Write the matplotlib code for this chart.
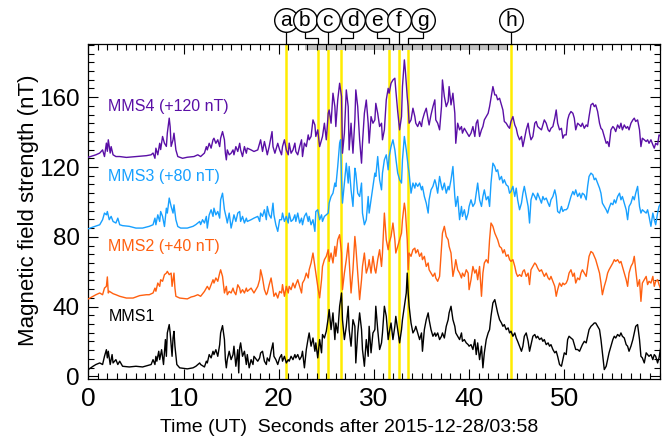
import numpy as np
import matplotlib
matplotlib.use("Agg")
import matplotlib.pyplot as plt
from matplotlib.transforms import blended_transform_factory

# |B| for each spacecraft, (seconds after 03:58 UT, nT)
mms1 = [(0, 3.9), (0.5, 5.8), (0.8, 6.8), (1.2, 7.7), (1.5, 6.8), (1.7, 11.5), (1.9, 15.3), (2.0, 10.6), (2.1, 14.4), (2.3, 6.8),
        (2.5, 12.5), (2.6, 7.7), (2.9, 9.6), (3.1, 6.8), (3.3, 8.7), (3.6, 5.8), (4.3, 5.4), (5.0, 5.8), (5.7, 5.4), (6.2, 6.2),
        (6.6, 6.8), (6.8, 9.6), (7.0, 6.8), (7.1, 11.5), (7.2, 8.7), (7.4, 14.4), (7.5, 9.6), (7.7, 15.3), (7.9, 6.8), (8.1, 21.1),
        (8.2, 11.5), (8.3, 24.9), (8.5, 29.7), (8.6, 24.9), (8.8, 11.5), (8.9, 22.0), (9.0, 25.8), (9.1, 17.3), (9.3, 6.8), (9.6, 4.9),
        (10.4, 4.3), (11.0, 4.9), (11.3, 5.8), (11.7, 7.7), (11.8, 6.8), (12.2, 5.4), (12.4, 8.7), (12.5, 7.7), (12.7, 12.5), (12.9, 10.6),
        (13.1, 14.4), (13.2, 12.5), (13.4, 15.3), (13.6, 11.5), (13.8, 18.2), (13.9, 24.9), (14.1, 29.1), (14.3, 21.1), (14.4, 9.6), (14.5, 4.9),
        (14.6, 9.6), (14.8, 14.4), (15.0, 9.6), (15.2, 12.5), (15.3, 17.3), (15.5, 5.8), (15.7, 15.3), (15.8, 2.0), (15.9, 16.3), (16.0, 19.2),
        (16.2, 11.5), (16.4, 14.4), (16.6, 6.8), (16.7, 12.5), (16.9, 4.9), (17.1, 9.6), (17.3, 6.8), (17.4, 11.5), (17.8, 8.7), (18.0, 10.6),
        (18.1, 13.4), (18.3, 14.4), (18.5, 8.7), (18.7, 6.8), (18.8, 10.6), (19.0, 8.7), (19.2, 14.4), (19.4, 19.2), (19.5, 11.5), (19.7, 9.6),
        (19.9, 6.8), (20.1, 10.6), (20.3, 12.5), (20.4, 8.7), (20.6, 11.5), (20.8, 7.7), (21.0, 9.6), (21.1, 8.7), (21.3, 11.5), (21.5, 9.6),
        (21.7, 12.5), (21.8, 10.6), (22.0, 12.5), (22.2, 9.6), (22.4, 11.5), (22.5, 14.4), (22.7, 4.9), (22.9, 15.4), (23.1, 22.0), (23.2, 24.9),
        (23.4, 17.3), (23.6, 22.0), (23.8, 14.4), (23.9, 19.2), (24.1, 10.6), (24.3, 21.1), (24.5, 13.5), (24.6, 24.0), (24.8, 22.0), (25.0, 25.9),
        (25.2, 33.5), (25.3, 38.3), (25.5, 26.8), (25.7, 36.4), (25.9, 21.1), (26.0, 30.6), (26.2, 24.9), (26.4, 40.2), (26.6, 47.8), (26.7, 32.5),
        (26.9, 21.1), (27.1, 28.7), (27.3, 40.2), (27.4, 26.8), (27.6, 17.3), (27.8, 32.5), (28.0, 28.7), (28.1, 7.7), (28.3, 24.9), (28.5, 36.4),
        (28.7, 26.8), (28.8, 15.4), (29.0, 5.8), (29.2, 21.1), (29.4, 11.5), (29.5, 28.7), (29.7, 13.5), (29.9, 24.9), (30.1, 26.8), (30.2, 40.2),
        (30.4, 26.8), (30.6, 15.4), (30.8, 19.2), (30.9, 24.9), (31.1, 40.2), (31.3, 34.4), (31.5, 21.1), (31.6, 24.9), (31.8, 30.6), (32.0, 21.1),
        (32.2, 28.7), (32.3, 34.4), (32.5, 26.8), (32.7, 19.2), (32.9, 26.8), (33.0, 32.5), (33.2, 40.2), (33.4, 47.8), (33.5, 59.2), (33.6, 47.8),
        (33.7, 40.2), (33.9, 30.6), (34.1, 24.9), (34.3, 26.8), (34.4, 28.7), (34.6, 24.9), (34.8, 21.1), (35.0, 24.9), (35.1, 14.4), (35.3, 26.8),
        (35.5, 32.5), (35.7, 36.4), (35.8, 32.5), (36.0, 26.8), (36.2, 23.0), (36.4, 24.9), (36.5, 23.0), (36.7, 24.9), (36.9, 21.1), (37.1, 23.0),
        (37.2, 24.9), (37.4, 22.0), (37.6, 28.7), (37.8, 32.5), (37.9, 36.4), (38.1, 40.2), (38.3, 32.5), (38.5, 28.7), (38.6, 24.9), (38.8, 23.0),
        (39.0, 21.1), (39.2, 24.9), (39.3, 20.1), (39.5, 21.1), (39.7, 19.2), (39.9, 18.2), (40.0, 17.3), (40.2, 18.2), (40.4, 15.4), (40.6, 21.1),
        (40.75, 12.5), (40.9, 19.2), (41.1, 9.6), (41.3, 17.3), (41.45, 4.9), (41.6, 13.5), (41.8, 21.1), (42.0, 24.9), (42.15, 26.8), (42.3, 34.4),
        (42.5, 42.1), (42.7, 44.0), (42.85, 40.2), (43.0, 36.4), (43.2, 32.5), (43.4, 30.6), (43.55, 28.7), (43.7, 29.7), (43.9, 26.8), (44.1, 27.8),
        (44.25, 24.9), (44.4, 25.9), (44.6, 23.0), (44.8, 24.9), (44.95, 22.0), (45.1, 20.1), (45.3, 17.3), (45.5, 14.4), (45.65, 17.3), (45.8, 23.0),
        (46.0, 24.9), (46.2, 20.1), (46.35, 14.4), (46.5, 18.2), (46.7, 23.0), (46.9, 24.0), (47.05, 22.0), (47.2, 23.0), (47.4, 21.1), (47.6, 22.0),
        (47.75, 20.1), (47.9, 21.1), (48.1, 18.2), (48.3, 19.2), (48.45, 17.3), (48.6, 18.2), (48.8, 15.4), (49.0, 13.5), (49.15, 14.4), (49.3, 11.5),
        (49.5, 6.8), (49.7, 5.8), (49.85, 9.6), (50.0, 13.5), (50.2, 12.5), (50.35, 21.1), (50.5, 23.0), (50.7, 22.0), (50.9, 21.1), (51.05, 18.2),
        (51.2, 15.4), (51.4, 15.4), (51.6, 14.4), (51.75, 16.3), (51.9, 18.2), (52.1, 20.1), (52.3, 19.2), (52.45, 23.0), (52.6, 26.8), (52.8, 28.7),
        (53.0, 29.7), (53.15, 30.6), (53.3, 30.6), (53.5, 28.7), (53.7, 26.8), (53.85, 21.1), (54.0, 13.5), (54.2, 3.9), (54.4, 5.8), (54.55, 9.6),
        (54.7, 13.5), (54.9, 17.3), (55.1, 21.1), (55.25, 23.0), (55.4, 22.0), (55.6, 24.0), (55.8, 23.0), (55.95, 24.9), (56.1, 23.0), (56.3, 22.0),
        (56.5, 18.2), (56.65, 17.3), (56.8, 14.4), (57.0, 17.3), (57.2, 21.1), (57.35, 24.9), (57.5, 28.7), (57.7, 29.7), (57.9, 21.1), (58.05, 11.5),
        (58.2, 10.6), (58.4, 7.7), (58.6, 13.5), (58.75, 12.5), (58.9, 11.5), (59.1, 12.5), (59.3, 9.6), (59.45, 12.5), (59.6, 11.5), (59.8, 7.7),
        (59.95, 10.6), (60.15, 17.3)]

mms2 = [(0, 4.4), (0.5, 5.9), (0.8, 6.8), (1.2, 7.8), (1.5, 6.8), (1.7, 10.6), (1.9, 11.6), (2.0, 17.0), (2.1, 7.8), (2.2, 8.8),
        (2.6, 7.4), (2.9, 6.8), (3.3, 5.9), (4.0, 4.9), (4.7, 4.9), (5.4, 6.3), (6.1, 6.8), (6.4, 6.8), (6.8, 7.8), (7.0, 10.6),
        (7.1, 8.8), (7.3, 13.5), (7.5, 11.6), (7.6, 15.4), (7.8, 14.5), (8.0, 18.3), (8.2, 19.2), (8.3, 20.2), (8.5, 18.3), (8.7, 19.2),
        (8.8, 11.6), (9.0, 19.2), (9.1, 10.6), (9.2, 5.9), (9.6, 4.9), (10.4, 4.4), (10.8, 5.5), (11.1, 5.9), (11.5, 6.8), (11.8, 5.9),
        (12.2, 8.7), (12.5, 11.6), (12.7, 9.7), (12.9, 12.5), (13.1, 15.4), (13.2, 13.5), (13.4, 16.4), (13.6, 14.5), (13.8, 19.2), (13.9, 21.1),
        (14.1, 17.3), (14.3, 7.8), (14.5, 11.6), (14.6, 6.8), (14.8, 8.7), (15.0, 7.8), (15.2, 10.6), (15.3, 8.7), (15.5, 6.8), (15.7, 12.5),
        (15.9, 10.6), (16.0, 7.8), (16.2, 9.7), (16.4, 7.8), (16.6, 10.6), (16.7, 8.7), (17.1, 10.6), (17.4, 7.8), (17.8, 11.6), (18.0, 15.4),
        (18.1, 21.1), (18.3, 16.4), (18.5, 9.7), (18.7, 6.8), (18.8, 7.8), (19.0, 12.5), (19.2, 16.4), (19.4, 9.7), (19.5, 5.9), (19.7, 7.8),
        (19.9, 4.9), (20.1, 8.7), (20.3, 7.8), (20.4, 12.6), (20.6, 5.9), (20.8, 11.6), (21.0, 7.8), (21.1, 11.6), (21.3, 9.7), (21.5, 13.5),
        (21.7, 10.7), (21.8, 12.6), (22.0, 15.4), (22.2, 11.6), (22.4, 7.8), (22.5, 13.5), (22.7, 15.4), (22.9, 19.2), (23.1, 16.4), (23.2, 21.1),
        (23.4, 25.0), (23.6, 30.7), (23.8, 23.0), (23.9, 19.2), (24.1, 11.6), (24.3, 5.0), (24.5, 15.4), (24.6, 23.0), (24.8, 26.9), (25.0, 28.8),
        (25.2, 32.6), (25.3, 25.9), (25.5, 30.7), (25.7, 25.0), (25.9, 34.5), (26.0, 28.8), (26.2, 38.3), (26.4, 41.2), (26.6, 30.7), (26.7, 9.7),
        (26.9, 19.2), (27.1, 26.9), (27.3, 36.4), (27.4, 26.9), (27.6, 7.8), (27.8, 21.1), (28.0, 40.2), (28.1, 34.5), (28.3, 19.2), (28.5, 4.0),
        (28.7, 15.4), (28.8, 23.0), (29.0, 30.7), (29.2, 19.2), (29.4, 23.0), (29.5, 26.9), (29.7, 19.2), (29.9, 28.8), (30.1, 21.1), (30.2, 19.2),
        (30.4, 26.9), (30.6, 32.6), (30.8, 23.0), (30.9, 30.7), (31.1, 53.6), (31.3, 38.3), (31.5, 32.6), (31.6, 36.4), (31.8, 40.2), (32.0, 47.9),
        (32.2, 38.3), (32.3, 30.7), (32.5, 34.5), (32.7, 38.3), (32.9, 42.1), (33.0, 49.8), (33.2, 59.3), (33.3, 55.5), (33.5, 38.3), (33.6, 21.1),
        (33.7, 30.7), (33.9, 28.8), (34.1, 32.6), (34.3, 33.5), (34.4, 30.7), (34.6, 32.6), (34.8, 28.8), (35.0, 30.7), (35.1, 26.9), (35.3, 28.8),
        (35.5, 23.0), (35.7, 25.0), (35.8, 21.1), (36.0, 19.2), (36.2, 17.3), (36.4, 19.2), (36.5, 16.4), (36.7, 14.5), (36.9, 17.3), (37.1, 34.5),
        (37.2, 42.1), (37.4, 46.0), (37.6, 40.2), (37.8, 38.3), (37.9, 34.5), (38.1, 30.7), (38.3, 17.3), (38.5, 23.0), (38.6, 26.9), (38.8, 21.1),
        (39.0, 19.2), (39.2, 16.4), (39.3, 19.2), (39.5, 17.3), (39.7, 21.1), (39.9, 19.2), (40.0, 9.7), (40.2, 15.4), (40.4, 23.0), (40.6, 19.2),
        (40.75, 21.1), (40.9, 15.4), (41.1, 23.0), (41.3, 5.9), (41.45, 19.2), (41.6, 25.0), (41.8, 26.9), (42.0, 25.0), (42.15, 38.3), (42.3, 47.9),
        (42.5, 46.0), (42.7, 42.1), (42.85, 40.2), (43.0, 38.3), (43.2, 34.5), (43.4, 33.5), (43.55, 30.7), (43.7, 32.6), (43.9, 28.8), (44.1, 29.7),
        (44.25, 26.9), (44.4, 25.9), (44.6, 26.9), (44.8, 23.0), (44.95, 19.2), (45.1, 17.3), (45.3, 18.3), (45.5, 17.3), (45.65, 20.2), (45.8, 21.1),
        (46.0, 17.3), (46.2, 19.2), (46.35, 12.6), (46.5, 21.1), (46.7, 23.0), (46.9, 25.0), (47.05, 24.0), (47.2, 22.1), (47.4, 20.2), (47.6, 21.1),
        (47.75, 19.2), (47.9, 17.3), (48.1, 19.2), (48.3, 16.4), (48.45, 15.4), (48.6, 17.3), (48.8, 14.5), (49.0, 11.6), (49.15, 5.9), (49.3, 9.7),
        (49.5, 13.5), (49.7, 11.6), (49.85, 13.5), (50.0, 12.6), (50.2, 13.5), (50.35, 15.4), (50.5, 19.2), (50.7, 21.1), (50.9, 17.3), (51.05, 19.2),
        (51.2, 13.5), (51.4, 16.4), (51.6, 15.4), (51.75, 19.2), (51.9, 21.1), (52.1, 19.2), (52.3, 17.3), (52.45, 23.0), (52.6, 28.8), (52.8, 31.6),
        (53.0, 30.7), (53.15, 28.8), (53.3, 26.9), (53.5, 23.0), (53.7, 19.2), (53.85, 13.5), (54.0, 6.8), (54.2, 11.6), (54.4, 15.4), (54.55, 19.2),
        (54.7, 21.1), (54.9, 23.0), (55.1, 25.0), (55.25, 26.9), (55.4, 25.9), (55.6, 26.9), (55.8, 25.0), (55.95, 25.9), (56.1, 23.0), (56.3, 19.2),
        (56.5, 15.4), (56.65, 11.6), (56.8, 19.2), (57.0, 23.0), (57.2, 25.0), (57.35, 28.8), (57.5, 21.1), (57.7, 11.6), (57.9, 15.4), (58.05, 3.0),
        (58.2, 13.5), (58.4, 15.4), (58.6, 17.3), (58.75, 12.6), (58.9, 14.5), (59.1, 13.5), (59.3, 17.3), (59.45, 11.6), (59.6, 14.5), (59.8, 15.4),
        (59.95, 12.6), (60.15, 9.7)]

mms3 = [(0, 4.6), (0.5, 5.6), (1.2, 6.9), (1.5, 9.8), (1.7, 13.6), (1.9, 12.6), (2.0, 14.5), (2.2, 9.8), (2.4, 11.7), (2.6, 8.8),
        (2.9, 7.9), (3.1, 10.7), (3.3, 6.9), (3.6, 6.4), (4.3, 6.0), (5.0, 5.0), (5.7, 5.0), (6.4, 6.0), (6.8, 6.9), (7.0, 10.7),
        (7.1, 6.9), (7.3, 12.6), (7.5, 8.8), (7.6, 14.5), (7.8, 11.7), (8.0, 5.9), (8.2, 16.4), (8.3, 13.6), (8.5, 22.2), (8.7, 17.4),
        (8.9, 13.6), (9.0, 18.3), (9.2, 9.8), (9.4, 5.9), (9.7, 5.0), (10.4, 5.0), (11.0, 6.0), (11.3, 7.0), (11.7, 8.8), (11.8, 7.0),
        (12.0, 9.8), (12.2, 7.9), (12.4, 11.7), (12.5, 5.0), (12.7, 12.6), (12.9, 15.5), (13.1, 11.7), (13.2, 16.4), (13.4, 12.6), (13.6, 14.5),
        (13.8, 10.7), (13.9, 21.2), (14.1, 25.0), (14.3, 15.5), (14.5, 10.7), (14.6, 7.9), (14.8, 13.6), (15.0, 5.0), (15.2, 9.8), (15.3, 12.6),
        (15.5, 8.8), (15.7, 13.6), (15.9, 14.5), (16.0, 8.8), (16.2, 11.7), (16.4, 7.9), (16.6, 10.7), (16.7, 8.8), (17.1, 9.8), (17.4, 10.7),
        (17.8, 11.7), (18.0, 8.8), (18.1, 13.6), (18.3, 11.7), (18.5, 15.5), (18.7, 9.8), (18.8, 17.4), (19.0, 12.6), (19.2, 10.7), (19.4, 19.3),
        (19.5, 12.6), (19.7, 6.9), (19.9, 3.1), (20.1, 9.8), (20.3, 9.8), (20.4, 13.6), (20.6, 8.8), (20.8, 11.7), (21.0, 7.9), (21.1, 13.6),
        (21.3, 8.8), (21.5, 9.8), (21.7, 12.6), (21.8, 8.8), (22.0, 13.6), (22.2, 7.9), (22.4, 10.7), (22.5, 6.9), (22.7, 11.7), (22.9, 13.6),
        (23.1, 8.8), (23.2, 11.7), (23.4, 6.9), (23.6, 9.8), (23.8, 3.1), (23.9, 14.5), (24.1, 15.5), (24.3, 9.8), (24.5, 12.6), (24.6, 8.8),
        (24.8, 11.7), (25.0, 12.6), (25.2, 13.6), (25.3, 19.3), (25.5, 23.1), (25.7, 25.0), (25.9, 30.8), (26.0, 28.8), (26.2, 40.3), (26.4, 53.7),
        (26.5, 55.6), (26.6, 32.7), (26.7, 19.3), (26.9, 30.8), (27.1, 42.2), (27.3, 30.8), (27.4, 40.3), (27.6, 26.9), (27.8, 17.4), (28.0, 39.3),
        (28.1, 36.5), (28.3, 25.0), (28.5, 23.1), (28.7, 30.8), (28.8, 13.6), (29.0, 6.9), (29.2, 9.8), (29.4, 23.1), (29.5, 13.6), (29.7, 21.2),
        (29.9, 28.9), (30.1, 36.5), (30.2, 34.6), (30.4, 46.0), (30.6, 32.7), (30.8, 26.9), (30.9, 36.5), (31.1, 44.1), (31.3, 47.0), (31.5, 38.4),
        (31.6, 46.0), (31.8, 51.7), (32.0, 55.6), (32.2, 49.8), (32.3, 45.1), (32.5, 36.5), (32.7, 32.7), (32.9, 30.8), (33.0, 44.1), (33.2, 57.5),
        (33.4, 49.8), (33.6, 40.3), (33.7, 36.5), (33.9, 25.0), (34.1, 30.8), (34.3, 27.9), (34.4, 30.8), (34.6, 28.9), (34.8, 30.8), (35.0, 26.9),
        (35.1, 28.9), (35.3, 23.1), (35.5, 19.3), (35.7, 13.6), (35.8, 21.2), (36.0, 26.9), (36.2, 28.9), (36.4, 32.7), (36.5, 30.8), (36.7, 25.0),
        (36.9, 34.6), (37.1, 28.9), (37.2, 26.9), (37.4, 30.8), (37.6, 25.0), (37.8, 28.9), (37.9, 26.9), (38.1, 32.7), (38.3, 40.3), (38.5, 23.1),
        (38.6, 17.4), (38.8, 23.1), (39.0, 9.8), (39.2, 17.4), (39.3, 11.7), (39.5, 15.5), (39.7, 9.8), (39.9, 13.6), (40.0, 17.4), (40.2, 21.2),
        (40.4, 17.4), (40.6, 19.3), (40.75, 25.0), (40.9, 30.8), (41.1, 21.2), (41.3, 17.4), (41.45, 23.1), (41.6, 26.9), (41.8, 21.2), (42.0, 23.1),
        (42.15, 17.4), (42.3, 30.8), (42.5, 42.2), (42.7, 40.3), (42.85, 37.4), (43.0, 38.4), (43.2, 32.7), (43.4, 34.6), (43.55, 30.8), (43.7, 32.7),
        (43.9, 29.8), (44.1, 28.9), (44.25, 25.0), (44.4, 26.0), (44.6, 28.9), (44.8, 23.1), (44.95, 27.9), (45.1, 21.2), (45.3, 15.5), (45.5, 19.3),
        (45.65, 25.0), (45.8, 28.9), (46.0, 23.1), (46.2, 17.4), (46.35, 7.9), (46.5, 21.2), (46.7, 25.0), (46.9, 23.1), (47.05, 21.2), (47.2, 25.0),
        (47.4, 22.2), (47.6, 19.3), (47.75, 23.1), (47.9, 21.2), (48.1, 22.2), (48.3, 19.3), (48.45, 17.4), (48.6, 21.2), (48.8, 23.1), (49.0, 26.9),
        (49.15, 23.1), (49.3, 14.5), (49.5, 13.6), (49.7, 17.4), (49.85, 14.5), (50.0, 15.5), (50.2, 15.5), (50.35, 16.4), (50.5, 19.3), (50.7, 23.1),
        (50.9, 26.0), (51.05, 24.1), (51.2, 26.9), (51.4, 23.1), (51.6, 25.0), (51.75, 22.2), (51.9, 25.0), (52.1, 24.1), (52.3, 21.2), (52.45, 28.9),
        (52.6, 34.6), (52.8, 36.5), (53.0, 35.5), (53.15, 32.7), (53.3, 33.6), (53.5, 30.8), (53.7, 27.9), (53.85, 25.0), (54.0, 19.3), (54.2, 17.4),
        (54.4, 15.5), (54.55, 13.6), (54.7, 16.4), (54.9, 19.3), (55.1, 18.4), (55.25, 21.2), (55.4, 19.3), (55.6, 23.1), (55.8, 25.0), (55.95, 21.2),
        (56.1, 23.1), (56.3, 19.3), (56.5, 15.5), (56.65, 9.8), (56.8, 17.4), (57.0, 19.3), (57.2, 23.1), (57.35, 21.2), (57.5, 25.0), (57.7, 28.9),
        (57.9, 17.4), (58.05, 13.6), (58.2, 15.5), (58.4, 14.5), (58.6, 13.6), (58.75, 15.5), (58.9, 11.7), (59.1, 6.0), (59.3, 13.6), (59.45, 9.8),
        (59.6, 6.9), (59.8, 13.6), (59.95, 17.4), (60.15, 19.3)]

mms4 = [(0, 5.6), (0.8, 7.0), (1.2, 8.0), (1.5, 9.8), (1.7, 6.0), (1.9, 13.7), (2.0, 9.0), (2.1, 15.6), (2.3, 8.0), (2.4, 11.7),
        (2.6, 7.0), (2.9, 6.0), (3.3, 6.0), (4.0, 5.5), (5.0, 6.0), (6.1, 6.5), (6.6, 7.0), (6.8, 8.0), (7.0, 5.0), (7.1, 10.8),
        (7.3, 7.0), (7.5, 13.6), (7.6, 10.0), (7.8, 17.5), (8.0, 13.6), (8.2, 11.8), (8.3, 19.4), (8.5, 28.0), (8.6, 23.0), (8.7, 11.8),
        (8.9, 15.6), (9.0, 19.4), (9.2, 9.8), (9.4, 6.0), (9.9, 5.0), (10.4, 5.6), (11.1, 6.0), (11.5, 7.0), (11.8, 6.0), (12.2, 8.0),
        (12.4, 11.7), (12.5, 9.8), (12.7, 13.6), (12.9, 10.8), (13.1, 15.6), (13.2, 16.5), (13.4, 13.6), (13.6, 15.6), (13.8, 11.7), (13.9, 16.5),
        (14.1, 20.3), (14.3, 15.6), (14.4, 7.9), (14.5, 4.1), (14.6, 9.8), (14.8, 7.0), (15.0, 7.9), (15.2, 9.8), (15.3, 7.0), (15.5, 11.7),
        (15.7, 8.9), (15.9, 13.6), (16.0, 9.8), (16.2, 6.0), (16.4, 11.7), (16.6, 7.9), (16.7, 10.8), (17.1, 9.8), (17.4, 8.9), (17.8, 9.8),
        (18.0, 13.6), (18.1, 15.6), (18.3, 8.9), (18.5, 14.6), (18.7, 9.8), (18.8, 7.0), (19.0, 11.7), (19.2, 17.5), (19.3, 20.3), (19.4, 11.7),
        (19.6, 7.9), (19.9, 13.6), (20.1, 9.8), (20.3, 7.0), (20.4, 11.7), (20.6, 15.6), (20.8, 9.8), (21.0, 7.0), (21.1, 13.7), (21.3, 7.9),
        (21.5, 9.8), (21.7, 13.7), (21.8, 8.9), (22.0, 7.0), (22.2, 11.7), (22.4, 15.6), (22.5, 6.0), (22.7, 13.7), (22.9, 11.7), (23.1, 18.4),
        (23.2, 15.6), (23.4, 17.5), (23.6, 27.0), (23.8, 24.1), (23.9, 17.5), (24.1, 21.3), (24.3, 11.7), (24.5, 15.6), (24.6, 17.5), (24.8, 25.1),
        (25.0, 15.6), (25.2, 30.8), (25.3, 32.7), (25.5, 25.1), (25.7, 42.3), (25.9, 34.6), (26.0, 23.2), (26.2, 38.4), (26.4, 48.0), (26.6, 40.4),
        (26.7, 7.9), (26.9, 19.4), (27.1, 44.2), (27.3, 34.6), (27.4, 9.8), (27.6, 25.1), (27.8, 7.9), (28.0, 27.0), (28.1, 44.2), (28.3, 34.6),
        (28.5, 15.6), (28.7, 2.2), (28.8, 13.7), (29.0, 30.8), (29.2, 38.4), (29.4, 25.1), (29.5, 13.7), (29.7, 28.9), (29.9, 25.1), (30.1, 27.0),
        (30.2, 36.5), (30.4, 30.8), (30.6, 23.2), (30.8, 25.1), (30.9, 15.6), (31.1, 21.3), (31.3, 38.5), (31.5, 45.1), (31.6, 42.3), (31.8, 48.0),
        (32.0, 49.9), (32.2, 50.9), (32.3, 44.2), (32.5, 31.8), (32.7, 21.3), (32.9, 28.9), (33.0, 46.1), (33.2, 61.4), (33.3, 55.6), (33.5, 40.4),
        (33.6, 34.6), (33.7, 25.1), (33.9, 27.0), (34.1, 33.7), (34.3, 28.9), (34.4, 25.1), (34.6, 23.2), (34.8, 26.1), (35.0, 23.2), (35.1, 27.0),
        (35.3, 30.8), (35.5, 33.7), (35.7, 27.0), (35.8, 24.1), (36.0, 29.9), (36.2, 34.6), (36.4, 38.5), (36.5, 27.0), (36.7, 25.1), (36.9, 21.3),
        (37.1, 34.6), (37.2, 49.9), (37.4, 40.4), (37.6, 34.6), (37.8, 37.5), (37.9, 46.1), (38.1, 35.6), (38.3, 42.3), (38.5, 30.8), (38.6, 13.6),
        (38.8, 25.1), (39.0, 21.3), (39.2, 23.2), (39.3, 19.4), (39.5, 22.2), (39.7, 20.3), (39.9, 18.4), (40.0, 17.5), (40.2, 19.4), (40.4, 23.2),
        (40.6, 17.5), (40.75, 25.1), (40.9, 27.0), (41.1, 17.5), (41.3, 21.3), (41.45, 23.2), (41.6, 27.0), (41.8, 28.9), (42.0, 30.8), (42.15, 34.6),
        (42.3, 39.4), (42.5, 46.1), (42.7, 41.3), (42.85, 41.3), (43.0, 38.5), (43.2, 39.4), (43.4, 35.6), (43.55, 32.7), (43.7, 26.1), (43.9, 25.1),
        (44.1, 23.2), (44.25, 22.2), (44.4, 26.1), (44.6, 28.9), (44.8, 24.1), (44.95, 22.2), (45.1, 18.4), (45.3, 15.6), (45.5, 17.5), (45.65, 11.7),
        (45.8, 15.6), (46.0, 21.3), (46.2, 25.1), (46.35, 19.4), (46.5, 15.6), (46.7, 17.5), (46.9, 25.1), (47.05, 26.1), (47.2, 23.2), (47.4, 22.2),
        (47.6, 21.3), (47.75, 24.1), (47.9, 27.0), (48.1, 25.1), (48.3, 21.3), (48.45, 20.3), (48.6, 22.2), (48.8, 23.2), (49.0, 28.0), (49.15, 32.7),
        (49.3, 25.1), (49.5, 21.3), (49.7, 22.2), (49.85, 16.5), (50.0, 18.4), (50.2, 18.4), (50.35, 27.0), (50.5, 29.9), (50.7, 31.8), (50.9, 30.8),
        (51.05, 28.0), (51.2, 21.3), (51.4, 25.1), (51.6, 24.1), (51.75, 23.2), (51.9, 25.1), (52.1, 22.2), (52.3, 24.1), (52.45, 23.2), (52.6, 28.9),
        (52.8, 35.6), (53.0, 36.5), (53.15, 34.6), (53.3, 35.6), (53.5, 31.8), (53.7, 25.1), (53.85, 22.2), (54.0, 21.3), (54.2, 17.5), (54.4, 13.6),
        (54.55, 14.6), (54.7, 11.7), (54.9, 21.3), (55.1, 23.2), (55.25, 22.2), (55.4, 20.3), (55.6, 24.1), (55.8, 22.2), (55.95, 25.1), (56.1, 21.3),
        (56.3, 24.1), (56.5, 22.2), (56.65, 23.2), (56.8, 21.3), (57.0, 25.1), (57.2, 27.0), (57.35, 28.0), (57.5, 26.1), (57.7, 27.0), (57.9, 21.3),
        (58.05, 11.7), (58.2, 16.5), (58.4, 15.6), (58.6, 14.6), (58.75, 15.6), (58.9, 13.6), (59.1, 15.6), (59.3, 12.7), (59.45, 10.8), (59.6, 13.6),
        (59.8, 12.7), (59.95, 18.4), (60.15, 17.5)]

offsets = [0, 40, 80, 120]
colors = ["black", "#ff6010", "#17a0ff", "#5a0fa6"]
names = ["MMS1", "MMS2 (+40 nT)", "MMS3 (+80 nT)", "MMS4 (+120 nT)"]

# marked instants and where their letter sits above the panel
event_t = [20.75, 24.1, 25.15, 26.5, 31.55, 32.6, 33.6, 44.4]
event_lab = ["a", "b", "c", "d", "e", "f", "g", "h"]
circle_t = [20.75, 22.75, 25.15, 27.8, 30.3, 32.6, 35.15, 44.4]
bar_span = (22.8, 44.0)

plt.rcParams["font.family"] = ["Liberation Sans", "DejaVu Sans"]

W, H = 662, 443
fig = plt.figure(figsize=(W / 100, H / 100), dpi=100)
ax = fig.add_axes([88.3 / W, (H - 379) / H, (659.5 - 88.3) / W, (379 - 44) / H])

for t_ev in event_t:
    ax.axvline(t_ev, color="#ffec00", lw=1.8, zorder=1)

for data, off, col, name in zip([mms1, mms2, mms3, mms4], offsets, colors, names):
    arr = np.array(data)
    ax.plot(arr[:, 0], arr[:, 1] + off, color=col, lw=1.0, zorder=3)
    ax.text(2.1, off + 34.5, name, color=col, fontsize=11.5, va="center")

ax.axvspan(bar_span[0], bar_span[1], ymin=0.982, ymax=1.0, color="#c2c2c2", lw=0, zorder=1.5)

ax.set_xlim(0, 60)
ax.set_ylim(-1.5, 190.5)
ax.set_xticks(np.arange(0, 60, 10))
ax.set_xticks(np.arange(0, 61, 1), minor=True)
ax.set_yticks(np.arange(0, 161, 40))
ax.set_yticks(np.arange(0, 191, 5), minor=True)
ax.tick_params(which="both", direction="in", top=True, right=True, width=0.8)
ax.tick_params(axis="x", labelsize=19)
ax.tick_params(axis="y", labelsize=17.5)
ax.tick_params(which="major", length=7.5, pad=6)
ax.tick_params(which="minor", length=4.5)
for sp in ax.spines.values():
    sp.set_linewidth(0.9)

fig.text(349 / W, 1 - 428 / H, "Time (UT)  Seconds after 2015-12-28/03:58",
         ha="center", va="center", fontsize=14)
fig.text(29 / W, 1 - 210 / H, "Magnetic field strength (nT)", rotation=90,
         ha="center", va="center", fontsize=16)

# lettered markers above the top axis
trans = blended_transform_factory(ax.transData, fig.transFigure)
cy = 1 - 20 / H
ey = 1 - 37.7 / H
top = 1 - 44 / H
for t_ev, t_c, lab in zip(event_t, circle_t, event_lab):
    if t_c == t_ev:
        xs, ys = [t_ev, t_ev], [cy, top]
    else:
        xs, ys = [t_c, t_c, t_ev, t_ev], [cy, ey, ey, top]
    ax.plot(xs, ys, color="black", lw=0.9, transform=trans, clip_on=False, zorder=4)
    ax.plot(t_c, cy, "o", ms=17, mfc="white", mec="black", mew=1.0,
            transform=trans, clip_on=False, zorder=5)
    ax.text(t_c, cy, lab, transform=trans, ha="center", va="center",
            fontsize=15, zorder=6)

fig.savefig("out.png", dpi=100)
